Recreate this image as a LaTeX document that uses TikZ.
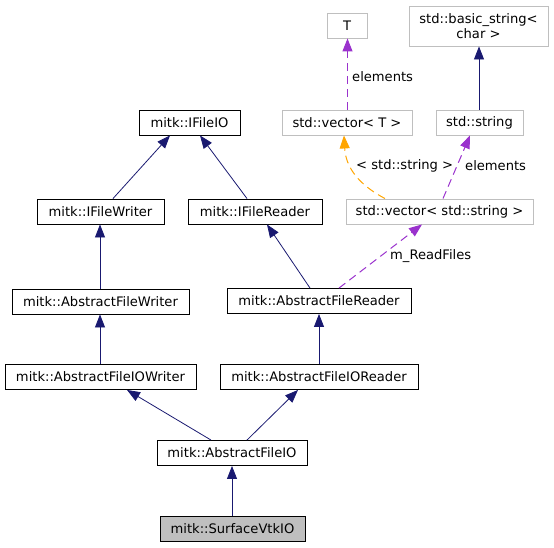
\documentclass[tikz,border=0pt]{standalone}
\usepackage{fontspec}
\setmainfont{DejaVu Sans}
\usetikzlibrary{arrows.meta}
\definecolor{navy}{HTML}{191970}
\definecolor{orch}{HTML}{9A32CD}
\definecolor{orng}{HTML}{FFA500}
\definecolor{lgrey}{HTML}{BFBFBF}
\begin{document}
\begin{tikzpicture}[x=1pt,y=-1pt,
  cls/.style={draw=black, line width=0.9pt, inner sep=0pt, minimum height=25pt, font=\fontsize{13.1}{15}\selectfont},
  ext/.style={cls, draw=lgrey},
  lbl/.style={font=\fontsize{13.1}{15}\selectfont, inner sep=0pt, anchor=west},
  inh/.style={draw=navy, line width=0.8pt, -{Triangle[length=13pt,width=10pt]}},
  usesrel/.style={color=orch, line width=1pt, dash pattern=on 8pt off 5pt, -{Triangle[length=13pt,width=10pt]}},
  tmpl/.style={color=orng, line width=1pt, dash pattern=on 8pt off 5pt, -{Triangle[length=13pt,width=10pt]}}]
\useasboundingbox (0,0) rectangle (554,548);
% external nodes
\node[ext, minimum width=40] (T) at (347,25.5) {T};
\node[ext, minimum width=139, minimum height=40, align=center] (bs) at (478.5,26) {std::basic\_string<\\char >};
\node[ext, minimum width=130] (vt) at (347,122.5) {std::vector< T >};
\node[ext, minimum width=87] (str) at (479.5,122.5) {std::string};
\node[ext, minimum width=187] (vs) at (439.5,211.5) {std::vector< std::string >};
% classes
\node[cls, minimum width=101] (ifio) at (189.5,122.5) {mitk::IFileIO};
\node[cls, minimum width=127] (ifw) at (100.5,211.5) {mitk::IFileWriter};
\node[cls, minimum width=134] (ifr) at (255,211.5) {mitk::IFileReader};
\node[cls, minimum width=177] (afw) at (100.5,301.5) {mitk::AbstractFileWriter};
\node[cls, minimum width=184] (afr) at (319,301) {mitk::AbstractFileReader};
\node[cls, minimum width=191] (afiow) at (100.5,377) {mitk::AbstractFileIOWriter};
\node[cls, minimum width=198] (afior) at (319,377) {mitk::AbstractFileIOReader};
\node[cls, minimum width=150] (afio) at (232,453) {mitk::AbstractFileIO};
\node[cls, minimum width=145, fill=lgrey] (svtk) at (232.5,529) {mitk::SurfaceVtkIO};
% inheritance
\draw[inh] ([xshift=12.5pt]ifw.north) -- ([xshift=-19.5pt]ifio.south);
\draw[inh] ([xshift=-8pt]ifr.north) -- ([xshift=10.5pt]ifio.south);
\draw[inh] ([xshift=-0.5pt]afw.north) -- ([xshift=-0.5pt]ifw.south);
\draw[inh] ([xshift=-9pt]afr.north) -- ([xshift=12pt]ifr.south);
\draw[inh] ([xshift=-0.5pt]afiow.north) -- ([xshift=-0.5pt]afw.south);
\draw[inh] (afior.north) -- (afr.south);
\draw[inh] ([xshift=-21pt]afio.north) -- ([xshift=26.5pt]afiow.south);
\draw[inh] ([xshift=15pt]afio.north) -- ([xshift=-21pt]afior.south);
\draw[inh] ([xshift=-0.5pt]svtk.north) -- (afio.south);
\draw[inh] ([xshift=-0.5pt]str.north) -- ([xshift=0.5pt]bs.south);
% usage
\draw[usesrel] ([xshift=0.5pt]vt.north) -- ([xshift=0.5pt]T.south);
\node[lbl] (l1) at (352,77) {elements};
\draw[tmpl] ([xshift=-54.5pt]vs.north) .. controls (365,188) and (346,172) .. ([xshift=-3pt]vt.south);
\node[lbl] (lt) at (356,166) {< std::string >};
\draw[usesrel] ([xshift=3.5pt]vs.north) -- ([xshift=-9.5pt]str.south);
\node[lbl] (le) at (465,166) {elements};
\draw[usesrel] ([xshift=20pt]afr.north) -- ([xshift=-17.5pt]vs.south);
\node[lbl] (lm) at (390,256) {m\_ReadFiles};
\end{tikzpicture}
\end{document}
